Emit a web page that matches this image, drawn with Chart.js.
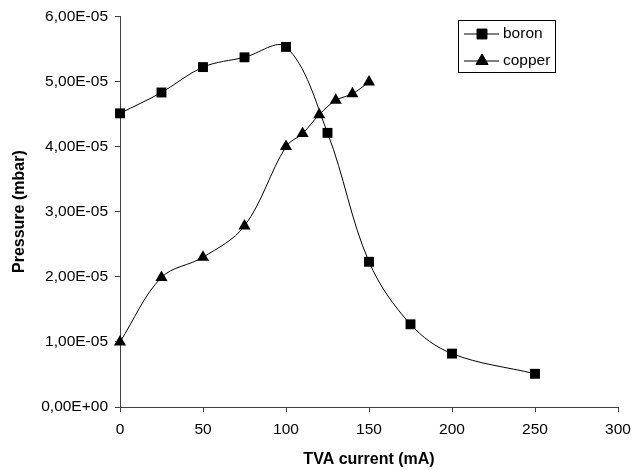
<!DOCTYPE html>
<html>
<head>
<meta charset="utf-8">
<script src="https://cdn.jsdelivr.net/npm/chart.js@4"></script>
<style>
  html, body { margin: 0; padding: 0; background: #fff; }
  #wrap { width: 643px; height: 470px; }
</style>
</head>
<body>
<div id="wrap"><canvas id="chart" width="643" height="470"></canvas></div>
<script>
// values
const boronCurrent = [0, 25, 50, 75, 100, 125, 150, 175, 200, 250];
const boronPressure = [4.51e-5, 4.83e-5, 5.22e-5, 5.37e-5, 5.53e-5, 4.21e-5, 2.23e-5, 1.27e-5, 0.82e-5, 0.51e-5];

const copperCurrent = [0, 25, 50, 75, 100, 110, 120, 130, 140, 150];
const copperPressure = [1.00e-5, 1.99e-5, 2.30e-5, 2.78e-5, 4.00e-5, 4.20e-5, 4.49e-5, 4.71e-5, 4.81e-5, 4.99e-5];

const yTickLabels = ["0,00E+00", "1,00E-05", "2,00E-05", "3,00E-05", "4,00E-05", "5,00E-05", "6,00E-05"];
const xTickLabels = ["0", "50", "100", "150", "200", "250", "300"];

const FONT = "'Liberation Sans', Arial, sans-serif";
const AXIS = "#404040";

function toPoints(xs, ys) {
    return xs.map((x, i) => ({ x: x, y: ys[i] }));
}

// legend with line + marker, like the spreadsheet one
const boxLegend = {
    id: "boxLegend",
    afterDraw(chart) {
        const ctx = chart.ctx;
        const left = 458, top = 20, w = 97, h = 52;
        ctx.save();
        ctx.fillStyle = "#fff";
        ctx.fillRect(left, top, w, h);
        ctx.strokeStyle = "#000";
        ctx.lineWidth = 1;
        ctx.strokeRect(left + 0.5, top + 0.5, w, h);
        chart.data.datasets.forEach((ds, i) => {
            const y = top + 14 + i * 27;
            ctx.beginPath();
            ctx.strokeStyle = "#000";
            ctx.moveTo(left + 6, y);
            ctx.lineTo(left + 41, y);
            ctx.stroke();
            Chart.helpers.drawPoint(ctx, {
                pointStyle: ds.pointStyle,
                radius: ds.pointRadius,
                borderWidth: 1,
                rotation: 0
            }, left + 24, y);
            ctx.fillStyle = "#000";
            ctx.fill();
            ctx.font = "15.5px " + FONT;
            ctx.textBaseline = "middle";
            ctx.textAlign = "left";
            ctx.fillText(ds.label, left + 45, y);
        });
        ctx.restore();
    }
};

new Chart(document.getElementById("chart"), {
    type: "line",
    data: {
        datasets: [
            {
                label: "boron",
                data: toPoints(boronCurrent, boronPressure),
                borderColor: "#000",
                borderWidth: 1,
                backgroundColor: "#000",
                pointStyle: "rect",
                pointRadius: 7,
                pointBorderWidth: 0,
                tension: 0.35,
                clip: false,
                fill: false
            },
            {
                label: "copper",
                data: toPoints(copperCurrent, copperPressure),
                borderColor: "#000",
                borderWidth: 1,
                backgroundColor: "#000",
                pointStyle: "triangle",
                pointRadius: 7,
                pointBorderWidth: 0,
                tension: 0.35,
                clip: false,
                fill: false
            }
        ]
    },
    options: {
        responsive: false,
        animation: false,
        layout: { padding: { top: 15, right: 25, bottom: 0, left: 0 } },
        plugins: {
            legend: { display: false },
            tooltip: { enabled: false }
        },
        scales: {
            x: {
                type: "linear",
                min: 0,
                max: 300,
                afterFit(scale) { scale.height = 63; },
                border: { display: true, color: AXIS, width: 1 },
                grid: { drawOnChartArea: false, drawTicks: true, tickLength: 5, color: AXIS },
                ticks: {
                    stepSize: 50,
                    padding: 8,
                    color: "#000",
                    font: { family: FONT, size: 15.5 },
                    callback: (v, i) => xTickLabels[i]
                },
                title: {
                    display: true,
                    text: "TVA current (mA)",
                    color: "#000",
                    font: { family: FONT, size: 16, weight: "bold" },
                    padding: { top: 0, bottom: 1 }
                }
            },
            y: {
                type: "linear",
                min: 0,
                max: 6e-5,
                afterFit(scale) { scale.width = 120; },
                border: { display: true, color: AXIS, width: 1 },
                grid: { drawOnChartArea: false, drawTicks: true, tickLength: 5, color: AXIS },
                ticks: {
                    stepSize: 1e-5,
                    padding: 7,
                    color: "#000",
                    font: { family: FONT, size: 15.5 },
                    callback: (v, i) => yTickLabels[i]
                },
                title: {
                    display: true,
                    text: "Pressure (mbar)",
                    color: "#000",
                    font: { family: FONT, size: 16, weight: "bold" },
                    padding: { top: 10, bottom: 0 }
                }
            }
        }
    },
    plugins: [boxLegend]
});
</script>
</body>
</html>
